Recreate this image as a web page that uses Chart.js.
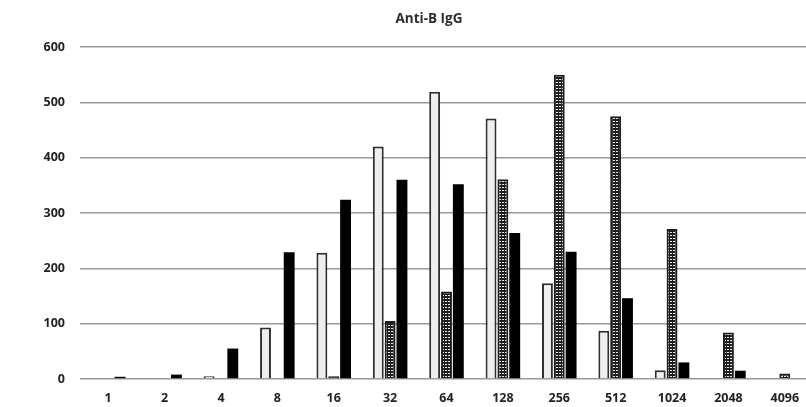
<!DOCTYPE html>
<html>
<head>
<meta charset="utf-8">
<script src="https://cdn.jsdelivr.net/npm/chart.js@4/dist/chart.umd.min.js"></script>
<style>
  html, body { margin: 0; padding: 0; background: #fff; overflow: hidden; }
  #wrap { position: relative; width: 813px; height: 407px; }
</style>
</head>
<body>
<div id="wrap"><canvas id="c"></canvas></div>
<script>
const titleText = 'Anti-B IgG';
const categories = ['1', '2', '4', '8', '16', '32', '64', '128', '256', '512', '1024', '2048', '4096'];
const seriesWhite = [0, 0, 5, 93, 228, 420, 519, 471, 173, 87, 16, 0, 0];
const seriesChecked = [0, 0, 0, 0, 5, 105, 158, 361, 550, 475, 271, 84, 10];
const seriesBlack = [4, 8, 55, 229, 324, 360, 352, 264, 230, 146, 30, 15, 0];
const yTicks = [0, 100, 200, 300, 400, 500, 600];

function makeChecker() {
  const p = document.createElement('canvas');
  p.width = 3; p.height = 3;
  const g = p.getContext('2d');
  g.fillStyle = '#1e1e1e';
  g.fillRect(0, 0, 3, 3);
  g.fillStyle = '#e8e8e8';
  g.fillRect(1, 1, 2, 1);
  return document.getElementById('c').getContext('2d').createPattern(p, 'repeat');
}

const titlePlugin = {
  id: 'customTitle',
  afterDraw(chart) {
    const ctx = chart.ctx;
    ctx.save();
    ctx.font = 'bold 13.5px "Open Sans", sans-serif';
    ctx.fillStyle = '#2e2e2e';
    ctx.textAlign = 'center';
    ctx.textBaseline = 'middle';
    ctx.fillText(titleText, 429, 19);
    ctx.restore();
  }
};

const tickFont = { family: '"Open Sans", sans-serif', weight: 'bold', size: 12.5 };

new Chart(document.getElementById('c'), {
  type: 'bar',
  data: {
    labels: categories,
    datasets: [
      { label: 'A', data: seriesWhite, backgroundColor: '#eeeeee', borderColor: '#2e2e2e', borderWidth: 2 },
      { label: 'B', data: seriesChecked, backgroundColor: makeChecker(), borderColor: '#1e1e1e', borderWidth: 2 },
      { label: 'C', data: seriesBlack, backgroundColor: '#000000', borderColor: '#000000', borderWidth: 0 }
    ]
  },
  options: {
    responsive: true,
    maintainAspectRatio: false,
    animation: false,
    layout: { padding: { top: 47, left: 0, right: 0, bottom: 0 } },
    datasets: { bar: { categoryPercentage: 0.63, barPercentage: 0.92 } },
    plugins: {
      legend: { display: false },
      title: { display: false },
      tooltip: { enabled: false }
    },
    scales: {
      x: {
        grid: { display: false, drawTicks: false },
        border: { display: false },
        ticks: { color: '#222', font: tickFont, padding: 12, maxRotation: 0, autoSkip: false },
        afterFit(scale) { scale.height = 28; }
      },
      y: {
        min: 0,
        max: 600,
        afterBuildTicks(scale) { scale.ticks = yTicks.map(v => ({ value: v })); },
        grid: { color: '#999999', lineWidth: 1.6, drawTicks: false },
        border: { display: false },
        ticks: { color: '#222', font: tickFont, padding: 15 },
        afterFit(scale) { scale.width = 80; }
      }
    }
  },
  plugins: [titlePlugin]
});
</script>
</body>
</html>
